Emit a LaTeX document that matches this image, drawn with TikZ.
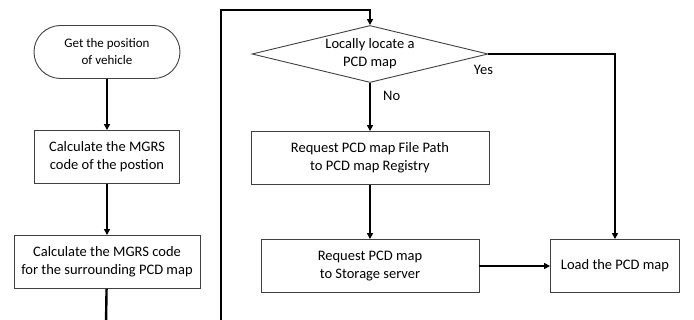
\documentclass[tikz,border=0pt]{standalone}
\usepackage{fontspec}
\setmainfont{Carlito}
\usetikzlibrary{shapes.geometric,arrows.meta}

\begin{document}
\begin{tikzpicture}[->,>={Triangle[length=6pt,width=6pt]},line width=2.4pt,node distance=105pt,
    proc node/.style={rectangle,draw=black!75,line width=0.9pt,minimum height=53pt,inner sep=0pt,align=center,font=\fontsize{14.5}{18}\selectfont},
    term node/.style={proc node,rounded corners=26.5pt,minimum width=146pt,font=\fontsize{13}{17}\selectfont},
    dec node/.style={diamond,draw=black!75,line width=0.9pt,aspect=4,minimum width=236pt,minimum height=57pt,inner sep=0pt,align=center,font=\fontsize{14.5}{18}\selectfont},
    lbl/.style={inner sep=0pt,font=\fontsize{14.5}{18}\selectfont}]
    \useasboundingbox (0pt,0pt) rectangle (694pt,-320pt);

    \node[term node] (start) at (107pt,-52pt) {Get the position\\of vehicle};
    \node[proc node,minimum width=145pt] (code) [below of=start] {Calculate the MGRS\\code of the postion};
    \node[proc node,minimum width=186pt] (area) [below of=code] {Calculate the MGRS code\\for the surrounding PCD map};

    \node[dec node] (local) at (370pt,-54pt) {Locally locate a\\PCD map};
    \node[proc node,minimum width=238pt] (path) [below of=local,node distance=104pt] {Request PCD map File Path\\to PCD map Registry};
    \node[proc node,minimum width=218pt] (fetch) [below of=path,node distance=108pt] {Request PCD map\\to Storage server};
    \node[proc node,minimum width=129pt] (load) [right of=fetch,node distance=245pt] {Load the PCD map};

    % off-page ends of the loop
    \coordinate (cut1) at (106pt,-324pt);
    \coordinate (cut2) at (221pt,-324pt);

    \draw (start) -- (code);
    \draw (code) -- (area);
    \draw[-] (area) -- (cut1);
    \draw (cut2) |- ([yshift=15pt]local.north) -- (local.north);
    \draw (local) -- node[lbl,pos=0.27,right=12pt] {No} (path);
    \draw (local.east) -| node[lbl,pos=0,below=10pt,xshift=-5pt] {Yes} (load.north);
    \draw (path) -- (fetch);
    \draw (fetch) -- (load);
\end{tikzpicture}
\end{document}
